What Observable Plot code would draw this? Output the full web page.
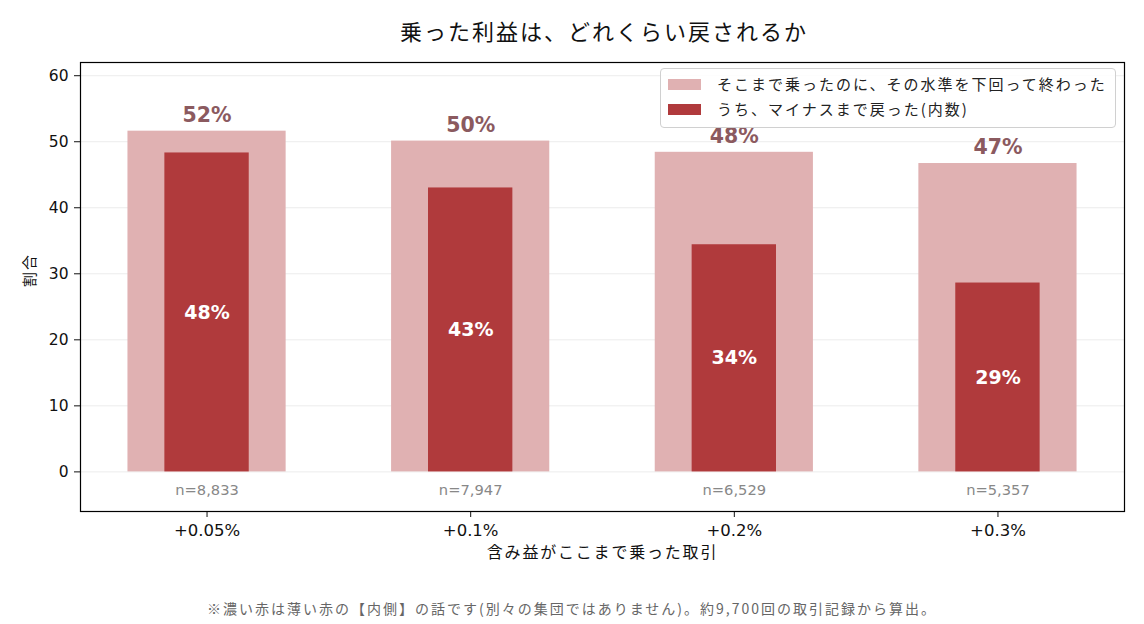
<!DOCTYPE html>
<html><head><meta charset="utf-8">
<script src="https://cdn.jsdelivr.net/npm/d3@7"></script>
<script src="https://cdn.jsdelivr.net/npm/@observablehq/plot@0.6"></script>
<style>
body{margin:0;background:#fff;font-family:"Noto Sans CJK JP","Noto Sans",sans-serif;}
#wrap{position:relative;width:1144px;height:624px;}
#title{height:60px;line-height:60px;padding-left:82px;width:1044px;text-align:center;font-size:22px;letter-spacing:2px;color:#111;}
#caption{text-align:center;font-size:14px;letter-spacing:2px;color:#666;margin-top:18px;line-height:20px;}
#legend{position:absolute;left:660px;top:68px;width:454px;height:58px;border:1px solid #d0d0d0;border-radius:4px;background:rgba(255,255,255,0.85);font-size:15px;letter-spacing:2px;color:#222;}
.row{position:absolute;left:7px;height:20px;line-height:20px;}
.sw{position:absolute;left:0;top:5px;width:33px;height:11px;}
.lt{position:absolute;left:49px;white-space:nowrap;}
</style></head>
<body><div id="wrap">
<div id="title">乗った利益は、どれくらい戻されるか</div>
<div id="chart"></div>
<div id="caption">※濃い赤は薄い赤の【内側】の話です(別々の集団ではありません)。約9,700回の取引記録から算出。</div>
<div id="legend">
 <div class="row" style="top:5px"><div class="sw" style="background:#e0b1b2"></div><div class="lt">そこまで乗ったのに、その水準を下回って終わった</div></div>
 <div class="row" style="top:30px"><div class="sw" style="background:#b03a3c"></div><div class="lt">うち、マイナスまで戻った(内数)</div></div>
</div>
</div>
<script>
const categories = ["+0.05%", "+0.1%", "+0.2%", "+0.3%"];
const fellBelow = [51.6, 50.1, 48.4, 46.7];
const toNegative = [48.3, 43.0, 34.4, 28.6];
const counts = ["n=8,833", "n=7,947", "n=6,529", "n=5,357"];
const yTicks = [0, 10, 20, 30, 40, 50, 60];

const LIGHT = "#e0b1b2", DARK = "#b03a3c", LBL = "#8b5a5f";
const LATIN = '"DejaVu Sans","Noto Sans CJK JP",sans-serif';
const CJK = '"Noto Sans CJK JP","Noto Sans",sans-serif';
const data = categories.map((c, i) => ({i, c, light: fellBelow[i], dark: toNegative[i], n: counts[i]}));

const chart = Plot.plot({
  width: 1144, height: 520,
  marginLeft: 80, marginRight: 20, marginTop: 2, marginBottom: 69,
  style: {fontFamily: LATIN, fontSize: "15px", color: "#111", background: "#fff"},
  x: {type: "linear", domain: [-0.48, 3.48], axis: null},
  y: {domain: [-6, 62], axis: null},
  marks: [
    Plot.gridY(yTicks, {stroke: "#000", strokeOpacity: 0.08, strokeWidth: 1}),
    Plot.rect(data, {x1: d => d.i - 0.3, x2: d => d.i + 0.3, y1: 0, y2: "light", fill: LIGHT}),
    Plot.rect(data, {x1: d => d.i - 0.16, x2: d => d.i + 0.16, y1: 0, y2: "dark", fill: DARK}),
    Plot.text(data, {x: "i", y: "light", text: d => Math.round(d.light) + "%", dy: -16, fill: LBL, fontWeight: "bold", fontSize: 20.5, fontFamily: LATIN}),
    Plot.text(data, {x: "i", y: d => d.dark / 2, text: d => Math.round(d.dark) + "%", fill: "#fff", fontWeight: "bold", fontSize: 19, fontFamily: LATIN}),
    Plot.text(data, {x: "i", y: 0, text: "n", dy: 18, fill: "#888", fontSize: 14.7, fontFamily: LATIN}),
    Plot.axisY(yTicks, {tickSize: 6, tickPadding: 6, label: null, fontSize: 15.5, fontFamily: LATIN, stroke: "#111"}),
    Plot.axisX([0, 1, 2, 3], {tickSize: 6, tickPadding: 7, label: null, tickFormat: i => categories[i], fontSize: 16.5, fontFamily: LATIN}),
    Plot.text(["割合"], {frameAnchor: "left", dx: -50, rotate: -90, fontSize: 15, fill: "#111", fontFamily: CJK}),
    Plot.text(["含み益がここまで乗った取引"], {frameAnchor: "bottom", dy: 46, fontSize: 16, fill: "#111", fontFamily: CJK}),
    Plot.frame({stroke: "#000", strokeWidth: 1.2})
  ]
});
d3.select(chart).selectAll("text").each(function() {
  const t = this.textContent;
  if (t === "割合") d3.select(this).attr("letter-spacing", "2px");
  if (t === "含み益がここまで乗った取引") d3.select(this).attr("letter-spacing", "1.8px");
});
document.getElementById("chart").appendChild(chart);
</script>
</body></html>
